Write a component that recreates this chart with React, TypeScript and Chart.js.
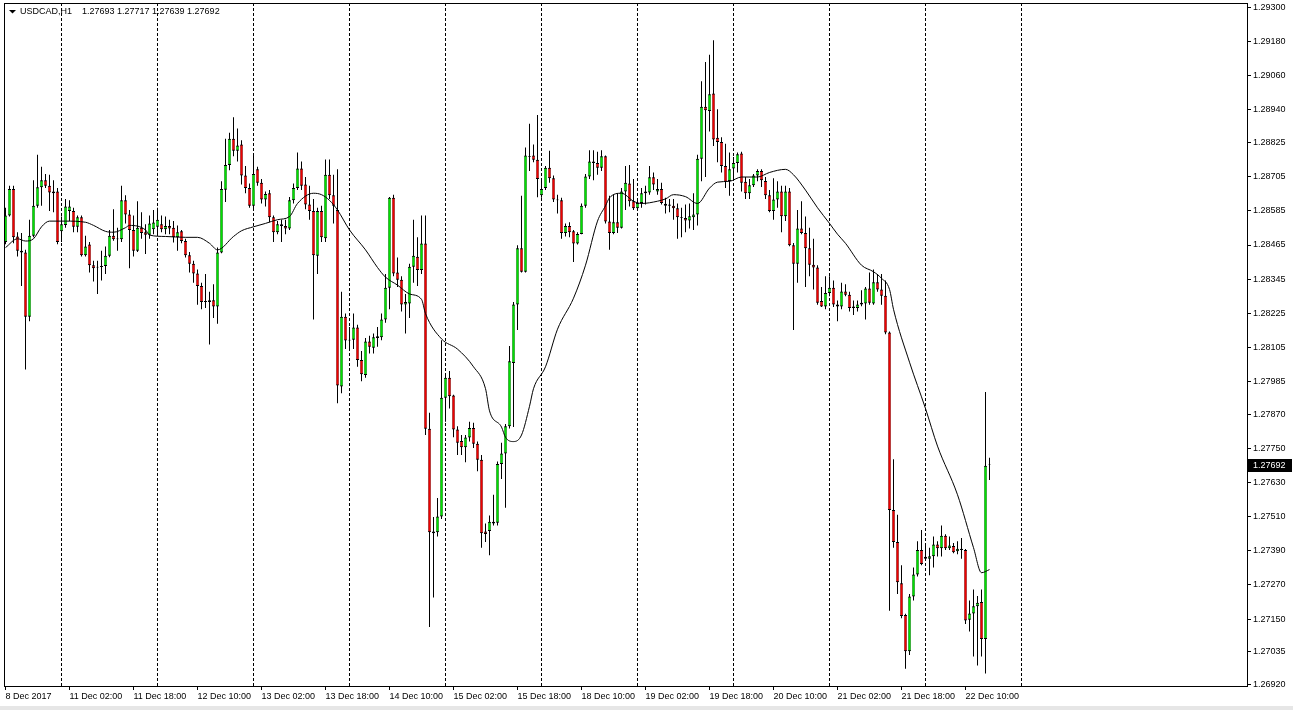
import React, { useEffect, useRef } from "react";
import { Chart, registerables } from "chart.js";

Chart.register(...registerables);

const symbolName = "USDCAD,H1";

const openP = [
  1.28476, 1.28569, 1.28662, 1.28495, 1.28445, 1.28439, 1.28213, 1.28498, 1.28603, 1.28668,
  1.28693, 1.28673, 1.28653, 1.28653, 1.28513, 1.28535, 1.28585, 1.28585, 1.28529, 1.28563,
  1.28429, 1.28467, 1.28394, 1.28389, 1.28388, 1.28391, 1.28427, 1.28498, 1.28485, 1.28485,
  1.28622, 1.28572, 1.28518, 1.28445, 1.28526, 1.28510, 1.28501, 1.28520, 1.28529, 1.28538,
  1.28520, 1.28532, 1.28526, 1.28492, 1.28513, 1.28479, 1.28429, 1.28399, 1.28365, 1.28321,
  1.28268, 1.28265, 1.28271, 1.28249, 1.28439, 1.28659, 1.28746, 1.28839, 1.28796, 1.28818,
  1.28709, 1.28665, 1.28603, 1.28731, 1.28684, 1.28625, 1.28647, 1.28563, 1.28510, 1.28532,
  1.28532, 1.28523, 1.28622, 1.28665, 1.28734, 1.28678, 1.28607, 1.28585, 1.28427, 1.28585,
  1.28489, 1.28712, 1.28640, 1.28588, 1.27968, 1.28213, 1.28132, 1.28132, 1.28175, 1.28061,
  1.28008, 1.28126, 1.28104, 1.28138, 1.28141, 1.28203, 1.28315, 1.28631, 1.28368, 1.28343,
  1.28256, 1.28259, 1.28389, 1.28424, 1.28377, 1.28470, 1.27819, 1.27458, 1.27455, 1.27511,
  1.27928, 1.27998, 1.27936, 1.27816, 1.27776, 1.27754, 1.27788, 1.27822, 1.27766, 1.27710,
  1.27458, 1.27460, 1.27486, 1.27489, 1.27695, 1.27732, 1.27828, 1.28050, 1.28256, 1.28454,
  1.28371, 1.28777, 1.28780, 1.28765, 1.28640, 1.28665, 1.28737, 1.28700, 1.28625, 1.28622,
  1.28507, 1.28532, 1.28513, 1.28470, 1.28504, 1.28603, 1.28706, 1.28759, 1.28753, 1.28737,
  1.28777, 1.28548, 1.28507, 1.28545, 1.28526, 1.28653, 1.28681, 1.28619, 1.28594, 1.28613,
  1.28647, 1.28650, 1.28703, 1.28653, 1.28662, 1.28610, 1.28607, 1.28603, 1.28594, 1.28563,
  1.28560, 1.28551, 1.28563, 1.28572, 1.28768, 1.28951, 1.28936, 1.28998, 1.28842, 1.28827,
  1.28743, 1.28690, 1.28734, 1.28753, 1.28787, 1.28687, 1.28647, 1.28675, 1.28709, 1.28725,
  1.28690, 1.28640, 1.28585, 1.28625, 1.28653, 1.28566, 1.28653, 1.28464, 1.28399, 1.28523,
  1.28507, 1.28454, 1.28396, 1.28386, 1.28268, 1.28249, 1.28296, 1.28315, 1.28256, 1.28249,
  1.28302, 1.28290, 1.28249, 1.28244, 1.28256, 1.28259, 1.28312, 1.28259, 1.28334, 1.28309,
  1.28287, 1.28157, 1.27533, 1.27421, 1.27276, 1.27164, 1.27037, 1.27229, 1.27307, 1.27393,
  1.27369, 1.27362, 1.27371, 1.27412, 1.27399, 1.27443, 1.27399, 1.27407, 1.27388, 1.27397,
  1.27393, 1.27148, 1.27170, 1.27195, 1.27210, 1.27080, 1.27693,
];

const highP = [
  1.28596, 1.28673, 1.28673, 1.28510, 1.28507, 1.28448, 1.28554, 1.28693, 1.28782, 1.28740,
  1.28715, 1.28712, 1.28693, 1.28665, 1.28565, 1.28627, 1.28622, 1.28596, 1.28569, 1.28569,
  1.28498, 1.28476, 1.28410, 1.28410, 1.28445, 1.28460, 1.28518, 1.28591, 1.28526, 1.28673,
  1.28640, 1.28588, 1.28569, 1.28619, 1.28580, 1.28538, 1.28569, 1.28588, 1.28596, 1.28569,
  1.28565, 1.28554, 1.28549, 1.28534, 1.28518, 1.28487, 1.28440, 1.28410, 1.28379, 1.28332,
  1.28363, 1.28301, 1.28327, 1.28456, 1.28689, 1.28839, 1.28860, 1.28914, 1.28875, 1.28833,
  1.28743, 1.28681, 1.28782, 1.28740, 1.28697, 1.28653, 1.28658, 1.28569, 1.28549, 1.28554,
  1.28554, 1.28634, 1.28681, 1.28790, 1.28759, 1.28704, 1.28673, 1.28627, 1.28596, 1.28603,
  1.28766, 1.28766, 1.28712, 1.28731, 1.28301, 1.28224, 1.28177, 1.28224, 1.28185, 1.28092,
  1.28138, 1.28146, 1.28154, 1.28177, 1.28224, 1.28363, 1.28634, 1.28642, 1.28421, 1.28355,
  1.28293, 1.28399, 1.28554, 1.28492, 1.28569, 1.28569, 1.27875, 1.27509, 1.27576, 1.28130,
  1.28006, 1.28022, 1.27939, 1.27828, 1.27797, 1.27797, 1.27844, 1.27840, 1.27774, 1.27727,
  1.27486, 1.27514, 1.27587, 1.27704, 1.27770, 1.27836, 1.28110, 1.28265, 1.28464, 1.28638,
  1.28808, 1.28891, 1.28818, 1.28922, 1.28697, 1.28743, 1.28796, 1.28709, 1.28642, 1.28631,
  1.28541, 1.28545, 1.28518, 1.28510, 1.28611, 1.28715, 1.28798, 1.28798, 1.28793, 1.28798,
  1.28780, 1.28638, 1.28642, 1.28647, 1.28665, 1.28743, 1.28746, 1.28697, 1.28627, 1.28665,
  1.28673, 1.28743, 1.28720, 1.28697, 1.28684, 1.28631, 1.28627, 1.28627, 1.28611, 1.28596,
  1.28607, 1.28611, 1.28647, 1.28782, 1.29041, 1.29108, 1.29134, 1.29185, 1.28942, 1.28844,
  1.28821, 1.28790, 1.28774, 1.28790, 1.28793, 1.28704, 1.28697, 1.28715, 1.28731, 1.28731,
  1.28704, 1.28658, 1.28700, 1.28689, 1.28673, 1.28673, 1.28665, 1.28472, 1.28588, 1.28619,
  1.28565, 1.28526, 1.28487, 1.28394, 1.28317, 1.28355, 1.28355, 1.28340, 1.28270, 1.28332,
  1.28327, 1.28301, 1.28270, 1.28270, 1.28306, 1.28317, 1.28368, 1.28379, 1.28363, 1.28363,
  1.28340, 1.28161, 1.27712, 1.27517, 1.27339, 1.27169, 1.27238, 1.27331, 1.27424, 1.27463,
  1.27417, 1.27401, 1.27440, 1.27424, 1.27479, 1.27448, 1.27440, 1.27417, 1.27424, 1.27435,
  1.27396, 1.27215, 1.27254, 1.27231, 1.27254, 1.27948, 1.27717,
];

const lowP = [
  1.28468, 1.28565, 1.28471, 1.28425, 1.28321, 1.28027, 1.28197, 1.28492, 1.28596, 1.28603,
  1.28665, 1.28585, 1.28580, 1.28468, 1.28476, 1.28526, 1.28549, 1.28510, 1.28510, 1.28425,
  1.28425, 1.28368, 1.28337, 1.28293, 1.28340, 1.28363, 1.28422, 1.28480, 1.28445, 1.28476,
  1.28541, 1.28383, 1.28425, 1.28440, 1.28487, 1.28433, 1.28487, 1.28503, 1.28503, 1.28510,
  1.28503, 1.28503, 1.28474, 1.28445, 1.28471, 1.28421, 1.28368, 1.28332, 1.28255, 1.28239,
  1.28244, 1.28115, 1.28208, 1.28188, 1.28436, 1.28616, 1.28728, 1.28777, 1.28759, 1.28678,
  1.28647, 1.28596, 1.28588, 1.28673, 1.28611, 1.28600, 1.28545, 1.28476, 1.28503, 1.28476,
  1.28503, 1.28518, 1.28611, 1.28658, 1.28658, 1.28591, 1.28554, 1.28203, 1.28363, 1.28476,
  1.28476, 1.28627, 1.28541, 1.27909, 1.27944, 1.28099, 1.28099, 1.28099, 1.28037, 1.27986,
  1.27998, 1.28084, 1.28084, 1.28107, 1.28130, 1.28192, 1.28239, 1.28355, 1.28317, 1.28231,
  1.28154, 1.28208, 1.28332, 1.28321, 1.28363, 1.27797, 1.27122, 1.27226, 1.27440, 1.27502,
  1.27844, 1.27890, 1.27789, 1.27727, 1.27727, 1.27701, 1.27774, 1.27751, 1.27670, 1.27401,
  1.27421, 1.27374, 1.27479, 1.27479, 1.27642, 1.27541, 1.27820, 1.27825, 1.28166, 1.28368,
  1.28368, 1.28725, 1.28756, 1.28633, 1.28631, 1.28658, 1.28684, 1.28616, 1.28576, 1.28487,
  1.28495, 1.28492, 1.28405, 1.28467, 1.28503, 1.28596, 1.28697, 1.28693, 1.28712, 1.28725,
  1.28541, 1.28448, 1.28503, 1.28507, 1.28523, 1.28588, 1.28600, 1.28588, 1.28591, 1.28596,
  1.28607, 1.28642, 1.28658, 1.28642, 1.28607, 1.28576, 1.28580, 1.28554, 1.28487, 1.28492,
  1.28510, 1.28523, 1.28518, 1.28534, 1.28689, 1.28704, 1.28864, 1.28813, 1.28756, 1.28720,
  1.28665, 1.28638, 1.28697, 1.28720, 1.28653, 1.28627, 1.28627, 1.28669, 1.28689, 1.28669,
  1.28627, 1.28580, 1.28554, 1.28596, 1.28510, 1.28549, 1.28461, 1.28166, 1.28332, 1.28503,
  1.28317, 1.28355, 1.28309, 1.28255, 1.28247, 1.28239, 1.28285, 1.28247, 1.28197, 1.28239,
  1.28285, 1.28231, 1.28219, 1.28231, 1.28250, 1.28203, 1.28255, 1.28255, 1.28301, 1.28255,
  1.28151, 1.27179, 1.27401, 1.27238, 1.27153, 1.26975, 1.27024, 1.27215, 1.27300, 1.27339,
  1.27355, 1.27304, 1.27331, 1.27370, 1.27370, 1.27393, 1.27393, 1.27381, 1.27378, 1.27362,
  1.27133, 1.27106, 1.27018, 1.26987, 1.27018, 1.26959, 1.27639,
];

const closeP = [
  1.28569, 1.28662, 1.28492, 1.28445, 1.28439, 1.28213, 1.28498, 1.28603, 1.28668, 1.28693,
  1.28673, 1.28650, 1.28647, 1.28476, 1.28538, 1.28600, 1.28600, 1.28529, 1.28563, 1.28429,
  1.28460, 1.28394, 1.28383, 1.28386, 1.28391, 1.28427, 1.28498, 1.28485, 1.28488, 1.28622,
  1.28572, 1.28518, 1.28445, 1.28526, 1.28507, 1.28501, 1.28541, 1.28544, 1.28554, 1.28520,
  1.28532, 1.28523, 1.28492, 1.28510, 1.28479, 1.28429, 1.28399, 1.28365, 1.28321, 1.28265,
  1.28265, 1.28271, 1.28249, 1.28439, 1.28662, 1.28746, 1.28839, 1.28796, 1.28815, 1.28709,
  1.28665, 1.28603, 1.28715, 1.28684, 1.28625, 1.28644, 1.28563, 1.28510, 1.28538, 1.28538,
  1.28523, 1.28622, 1.28665, 1.28734, 1.28673, 1.28607, 1.28585, 1.28429, 1.28585, 1.28492,
  1.28712, 1.28640, 1.28603, 1.27971, 1.28213, 1.28129, 1.28129, 1.28175, 1.28061, 1.28011,
  1.28126, 1.28107, 1.28141, 1.28144, 1.28203, 1.28315, 1.28631, 1.28365, 1.28343, 1.28256,
  1.28265, 1.28389, 1.28427, 1.28377, 1.28470, 1.27819, 1.27455, 1.27452, 1.27511, 1.27928,
  1.27998, 1.27933, 1.27816, 1.27770, 1.27754, 1.27788, 1.27822, 1.27766, 1.27710, 1.27452,
  1.27449, 1.27492, 1.27492, 1.27695, 1.27732, 1.27828, 1.28056, 1.28256, 1.28454, 1.28371,
  1.28780, 1.28774, 1.28765, 1.28697, 1.28662, 1.28737, 1.28700, 1.28625, 1.28622, 1.28507,
  1.28532, 1.28510, 1.28470, 1.28504, 1.28603, 1.28706, 1.28759, 1.28753, 1.28737, 1.28777,
  1.28548, 1.28507, 1.28545, 1.28526, 1.28653, 1.28684, 1.28619, 1.28594, 1.28613, 1.28647,
  1.28653, 1.28703, 1.28678, 1.28662, 1.28613, 1.28603, 1.28603, 1.28594, 1.28563, 1.28560,
  1.28551, 1.28566, 1.28572, 1.28768, 1.28951, 1.28939, 1.28995, 1.28836, 1.28827, 1.28743,
  1.28687, 1.28731, 1.28753, 1.28784, 1.28684, 1.28647, 1.28675, 1.28709, 1.28725, 1.28693,
  1.28640, 1.28585, 1.28625, 1.28653, 1.28566, 1.28653, 1.28464, 1.28399, 1.28523, 1.28507,
  1.28454, 1.28396, 1.28386, 1.28262, 1.28249, 1.28296, 1.28315, 1.28256, 1.28249, 1.28302,
  1.28290, 1.28244, 1.28244, 1.28256, 1.28262, 1.28312, 1.28262, 1.28334, 1.28309, 1.28287,
  1.28157, 1.27533, 1.27421, 1.27279, 1.27161, 1.27037, 1.27229, 1.27307, 1.27393, 1.27344,
  1.27362, 1.27371, 1.27412, 1.27399, 1.27443, 1.27399, 1.27409, 1.27385, 1.27397, 1.27393,
  1.27145, 1.27170, 1.27195, 1.27207, 1.27080, 1.27689, 1.27692,
];

// Moving average (bar index, value)
const maBar = [
  0, 3, 5, 7, 9, 11, 15, 20, 22, 25, 27, 30, 31, 35, 36, 40, 45, 48, 51, 53,
  57, 59, 62, 65, 68, 71, 73, 77, 79, 81, 83, 86, 90, 93, 95, 98, 101, 104, 105, 109,
  113, 117, 120, 121, 124, 125, 127, 129, 131, 132, 135, 138, 142, 145, 148, 150, 151, 154, 157, 159,
  163, 165, 167, 170, 173, 176, 178, 181, 184, 188, 191, 195, 197, 200, 203, 206, 208, 210, 214, 217,
  219, 221, 222, 226, 230, 233, 238, 242, 244, 246,
];
const maVal = [
  1.28456, 1.28487, 1.28479, 1.28487, 1.28529, 1.28549, 1.28549, 1.28545, 1.28534, 1.28513,
  1.28510, 1.28526, 1.28534, 1.28518, 1.28500, 1.28495, 1.28492, 1.28492, 1.28471, 1.28448,
  1.28495, 1.28515, 1.28529, 1.28541, 1.28554, 1.28565, 1.28611, 1.28647, 1.28642, 1.28622,
  1.28588, 1.28518, 1.28448, 1.28386, 1.28352, 1.28324, 1.28293, 1.28274, 1.28224, 1.28135,
  1.28099, 1.28037, 1.27960, 1.27882, 1.27825, 1.27789, 1.27774, 1.27797, 1.27898, 1.27960,
  1.28037, 1.28169, 1.28278, 1.28394, 1.28549, 1.28603, 1.28631, 1.28647, 1.28619, 1.28611,
  1.28619, 1.28627, 1.28642, 1.28635, 1.28611, 1.28665, 1.28686, 1.28689, 1.28704, 1.28704,
  1.28720, 1.28731, 1.28712, 1.28658, 1.28596, 1.28541, 1.28503, 1.28471, 1.28394, 1.28371,
  1.28348, 1.28309, 1.28239, 1.28053, 1.27890, 1.27758, 1.27587, 1.27401, 1.27313, 1.27324,
];

// Day boundaries (bar index of 00:00) for the dotted separators
const dayStartBars = [14, 38, 62, 86, 110, 134, 158, 182, 206, 230, 254];

// Time axis ticks
const timeTickBars = [0, 16, 32, 48, 64, 80, 96, 112, 128, 144, 160, 176, 192, 208, 224, 240];
const timeTickLabels = [
  "8 Dec 2017", "11 Dec 02:00", "11 Dec 18:00", "12 Dec 10:00", "13 Dec 02:00",
  "13 Dec 18:00", "14 Dec 10:00", "15 Dec 02:00", "15 Dec 18:00", "18 Dec 10:00",
  "19 Dec 02:00", "19 Dec 18:00", "20 Dec 10:00", "21 Dec 02:00", "21 Dec 18:00",
  "22 Dec 10:00",
];

// Price axis ticks
const priceTicks = [
  1.2692, 1.27035, 1.2715, 1.2727, 1.2739, 1.2751, 1.2763, 1.2775, 1.2787, 1.27985,
  1.28105, 1.28225, 1.28345, 1.28465, 1.28585, 1.28705, 1.28825, 1.2894, 1.2906, 1.2918,
  1.293,
];

const FONT = "'Liberation Sans', Arial, sans-serif";
const BULL = "#00e000";
const BEAR = "#ee0000";

export default function App() {
  const ref = useRef<HTMLCanvasElement>(null);

  useEffect(() => {
    document.body.style.margin = "0";
    const canvas = ref.current;
    if (!canvas) return;
    const n = closeP.length;
    const idx = closeP.map((_, i) => i);
    const xMin = -0.375;
    const xMax = 310.375;
    const yMin = 1.269147;
    const yMax = 1.293158;

    const decor = {
      id: "decor",
      beforeDraw(c: any) {
        const ctx = c.ctx;
        ctx.save();
        ctx.fillStyle = "#ffffff";
        ctx.fillRect(0, 0, c.width, c.height);
        ctx.fillStyle = "#e6e6e6";
        ctx.fillRect(0, 706, c.width, 4);
        ctx.restore();
      },
      afterDraw(c: any) {
        const ctx = c.ctx;
        const a = c.chartArea;
        ctx.save();
        // frame
        ctx.strokeStyle = "#000";
        ctx.lineWidth = 1;
        ctx.strokeRect(a.left + 0.5, a.top + 0.5, a.right - a.left, a.bottom - a.top);
        // header
        ctx.fillStyle = "#000";
        ctx.beginPath();
        ctx.moveTo(9, 10);
        ctx.lineTo(16, 10);
        ctx.lineTo(12.5, 13.5);
        ctx.closePath();
        ctx.fill();
        ctx.font = `9px ${FONT}`;
        ctx.textBaseline = "middle";
        ctx.textAlign = "left";
        ctx.fillText(symbolName, 20, 12);
        const last = n - 1;
        const hdr = [openP[last], highP[last], lowP[last], closeP[last]].map((v) => v.toFixed(5)).join(" ");
        ctx.fillText(hdr, 82, 12);
        // current price tag
        const yp = Math.round(c.scales.y.getPixelForValue(closeP[last]));
        ctx.fillStyle = "#000";
        ctx.fillRect(a.right + 1, yp - 6, 44, 13);
        ctx.fillStyle = "#fff";
        ctx.fillText(closeP[last].toFixed(5), a.right + 6, yp + 0.5);
        ctx.restore();
      },
    };

    const chart = new Chart(canvas, {
      type: "bar",
      data: {
        datasets: [
          {
            type: "bar",
            label: "wick",
            data: idx.map((i) => ({ x: i, y: [lowP[i], highP[i]] })) as any,
            backgroundColor: "#000",
            borderWidth: 0,
            barPercentage: 1,
            categoryPercentage: 1,
            maxBarThickness: 1,
            grouped: false,
            inflateAmount: 0,
            xAxisID: "x",
            yAxisID: "y",
            order: 3,
          } as any,
          {
            type: "bar",
            label: "body",
            data: idx.map((i) => ({ x: i, y: [openP[i], closeP[i]] })) as any,
            backgroundColor: idx.map((i) => (closeP[i] >= openP[i] ? BULL : BEAR)),
            borderColor: "#000",
            borderWidth: { top: 1, bottom: 1, left: 0.5, right: 0.5 },
            borderSkipped: false,
            barPercentage: 1,
            categoryPercentage: 1,
            maxBarThickness: 3,
            grouped: false,
            inflateAmount: 0,
            xAxisID: "x",
            yAxisID: "y",
            order: 2,
          } as any,
          {
            type: "line",
            label: "MA",
            data: maBar.map((b, k) => ({ x: b, y: maVal[k] })) as any,
            borderColor: "#000",
            borderWidth: 1,
            pointRadius: 0,
            cubicInterpolationMode: "monotone",
            xAxisID: "x",
            yAxisID: "y",
            order: 1,
          } as any,
        ],
      },
      options: {
        responsive: false,
        animation: false,
        devicePixelRatio: 1,
        events: [],
        layout: { padding: { left: 4, top: 3, right: 0, bottom: 0 } },
        plugins: { legend: { display: false }, tooltip: { enabled: false } },
        scales: {
          x: {
            type: "linear",
            position: "bottom",
            min: xMin,
            max: xMax,
            offset: false,
            afterBuildTicks: (s: any) => {
              s.ticks = timeTickBars.map((v) => ({ value: v }));
            },
            afterFit: (s: any) => {
              s.height = 24;
              s.paddingLeft = 0;
              s.paddingRight = 0;
            },
            ticks: {
              autoSkip: false,
              maxRotation: 0,
              minRotation: 0,
              align: "start",
              color: "#000",
              font: { family: FONT, size: 9 },
              padding: 1,
              callback: (_v: any, i: number) => timeTickLabels[i],
            },
            grid: { offset: false, drawOnChartArea: false, drawTicks: true, tickLength: 4, color: "#000" },
            border: { display: false },
          },
          xg: {
            type: "linear",
            position: "bottom",
            min: xMin,
            max: xMax,
            offset: false,
            afterBuildTicks: (s: any) => {
              s.ticks = dayStartBars.map((v) => ({ value: v }));
            },
            afterFit: (s: any) => {
              s.height = 0;
              s.paddingLeft = 0;
              s.paddingRight = 0;
            },
            ticks: { display: false },
            grid: { offset: false, drawOnChartArea: true, drawTicks: false, color: "#000", lineWidth: 1 },
            border: { display: false, dash: [3, 2] },
          },
          y: {
            type: "linear",
            position: "right",
            min: yMin,
            max: yMax,
            afterBuildTicks: (s: any) => {
              s.ticks = priceTicks.map((v) => ({ value: v }));
            },
            afterFit: (s: any) => {
              s.width = 46;
              s.paddingTop = 0;
              s.paddingBottom = 0;
            },
            ticks: {
              autoSkip: false,
              color: "#000",
              font: { family: FONT, size: 9 },
              padding: 2,
              callback: (v: any) => Number(v).toFixed(5),
            },
            grid: { offset: false, drawOnChartArea: false, drawTicks: true, tickLength: 4, color: "#000" },
            border: { display: false },
          },
        },
      } as any,
      plugins: [decor],
    });

    return () => chart.destroy();
  }, []);

  return (
    <canvas
      ref={ref}
      width={1293}
      height={710}
      style={{ display: "block", width: 1293, height: 710 }}
    />
  );
}
